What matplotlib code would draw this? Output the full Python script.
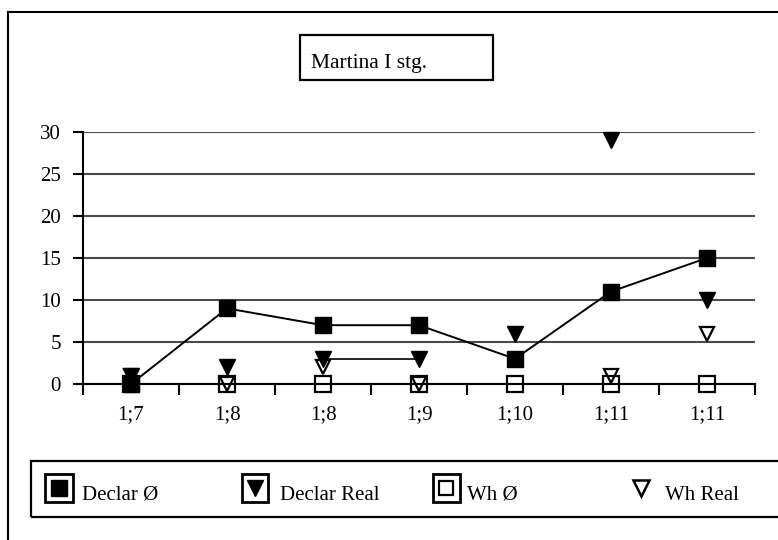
import matplotlib
matplotlib.use('Agg')
import matplotlib.pyplot as plt
from matplotlib.patches import Rectangle
from matplotlib.lines import Line2D
import numpy as np

# ---- data ----
categories = ['1;7', '1;8', '1;8', '1;9', '1;10', '1;11', '1;11']
declar_zero = [0, 9, 7, 7, 3, 11, 15]
declar_real = [1, 2, 3, 3, 6, 29, 10]
wh_zero = [0, 0, 0, 0, 0, 0, 0]
wh_real = [1, 0, 2, 0, np.nan, 1, 6]
declar_real_linked = [2, 3]          # indices joined by a line in the source
yticks = [0, 5, 10, 15, 20, 25, 30]
title = 'Martina I stg.'
legend_labels = ['Declar Ø', 'Declar Real', 'Wh Ø', 'Wh Real']

plt.rcParams['font.family'] = ['Liberation Serif', 'DejaVu Serif']
FS = 15

W, H = 778, 540
fig = plt.figure(figsize=(W / 100, H / 100), dpi=100)


def fx(px):
    return px / W


def fy(py):
    return 1 - py / H


# ---- main axes ----
ax = fig.add_axes([fx(83), fy(384), fx(755) - fx(83), fy(132) - fy(384)])
x = np.arange(len(categories))
ax.set_xlim(-0.5, len(categories) - 0.5)
ax.set_ylim(0, 30)

for s in ['top', 'right']:
    ax.spines[s].set_visible(False)
for s in ['left', 'bottom']:
    ax.spines[s].set_linewidth(1.5)
    ax.spines[s].set_color('black')
    ax.spines[s].set_zorder(2)

ax.set_yticks(yticks)
ax.set_yticklabels([str(v) for v in yticks], fontsize=FS)
ax.tick_params(axis='y', length=7, width=1.5, pad=9, direction='out')

ax.set_xticks(x)
ax.set_xticklabels(categories, fontsize=FS)
ax.tick_params(axis='x', which='major', length=0, pad=15)
ax.set_xticks(np.arange(-0.5, len(categories), 1.0), minor=True)
ax.tick_params(axis='x', which='minor', length=8, width=1.5, direction='out')

ax.yaxis.grid(True, color='#4a4a4a', lw=1.5)
ax.set_axisbelow(True)

# Wh series (open markers)
ax.plot(x, wh_zero, linestyle='none', marker='s', ms=11, mfc='none',
        mec='black', mew=1.6, clip_on=False, zorder=3)
ax.plot(x, wh_real, linestyle='none', marker='v', ms=10, mfc='none',
        mec='black', mew=1.6, clip_on=False, zorder=3)

# Declar series (filled markers)
ax.plot(x, declar_zero, color='black', lw=1.4, marker='s', ms=12,
        mfc='black', mec='black', clip_on=False, zorder=5)
ax.plot(x, declar_real, linestyle='none', marker='v', ms=11,
        mfc='black', mec='black', clip_on=False, zorder=4)
ax.plot([x[i] for i in declar_real_linked],
        [declar_real[i] for i in declar_real_linked],
        color='black', lw=1.2, zorder=3)

# ---- outer frame ----
fig.add_artist(Line2D([fx(8), fx(8)], [fy(12), fy(540)], color='black',
                      lw=1.5, transform=fig.transFigure))
fig.add_artist(Line2D([fx(8), fx(778)], [fy(12), fy(12)], color='black',
                      lw=1.5, transform=fig.transFigure))

# ---- title box ----
fig.add_artist(Rectangle((fx(300), fy(80)), fx(493) - fx(300), fy(35) - fy(80),
                         fill=False, ec='black', lw=1.6,
                         transform=fig.transFigure))
fig.text(fx(311), fy(68), title, fontsize=FS + 0.5, ha='left', va='baseline')

# ---- legend ----
fig.add_artist(Rectangle((fx(31), fy(517)), fx(790) - fx(31), fy(461) - fy(517),
                         fill=False, ec='black', lw=1.6,
                         transform=fig.transFigure, clip_on=False))

key_frames = [(45, 73), (242, 268), (433, 460), None]
key_centers = [59, 255, 446, 641]
key_styles = [
    dict(marker='s', ms=11.5, mfc='black', mec='black'),
    dict(marker='v', ms=12, mfc='black', mec='black'),
    dict(marker='s', ms=10, mfc='none', mec='black', mew=1.6),
    dict(marker='v', ms=12, mfc='none', mec='black', mew=1.8),
]
text_left = [82, 280, 467, 665]
for frame, cx, st, tx, lab in zip(key_frames, key_centers, key_styles,
                                  text_left, legend_labels):
    if frame is not None:
        fig.add_artist(Rectangle((fx(frame[0]), fy(502)),
                                 fx(frame[1]) - fx(frame[0]), fy(474) - fy(502),
                                 fill=False, ec='black', lw=2,
                                 transform=fig.transFigure))
    fig.add_artist(Line2D([fx(cx)], [fy(488)], linestyle='none',
                          transform=fig.transFigure, **st))
    fig.text(fx(tx), fy(500), lab, fontsize=FS, ha='left', va='baseline')

fig.savefig('out.png', dpi=100)
